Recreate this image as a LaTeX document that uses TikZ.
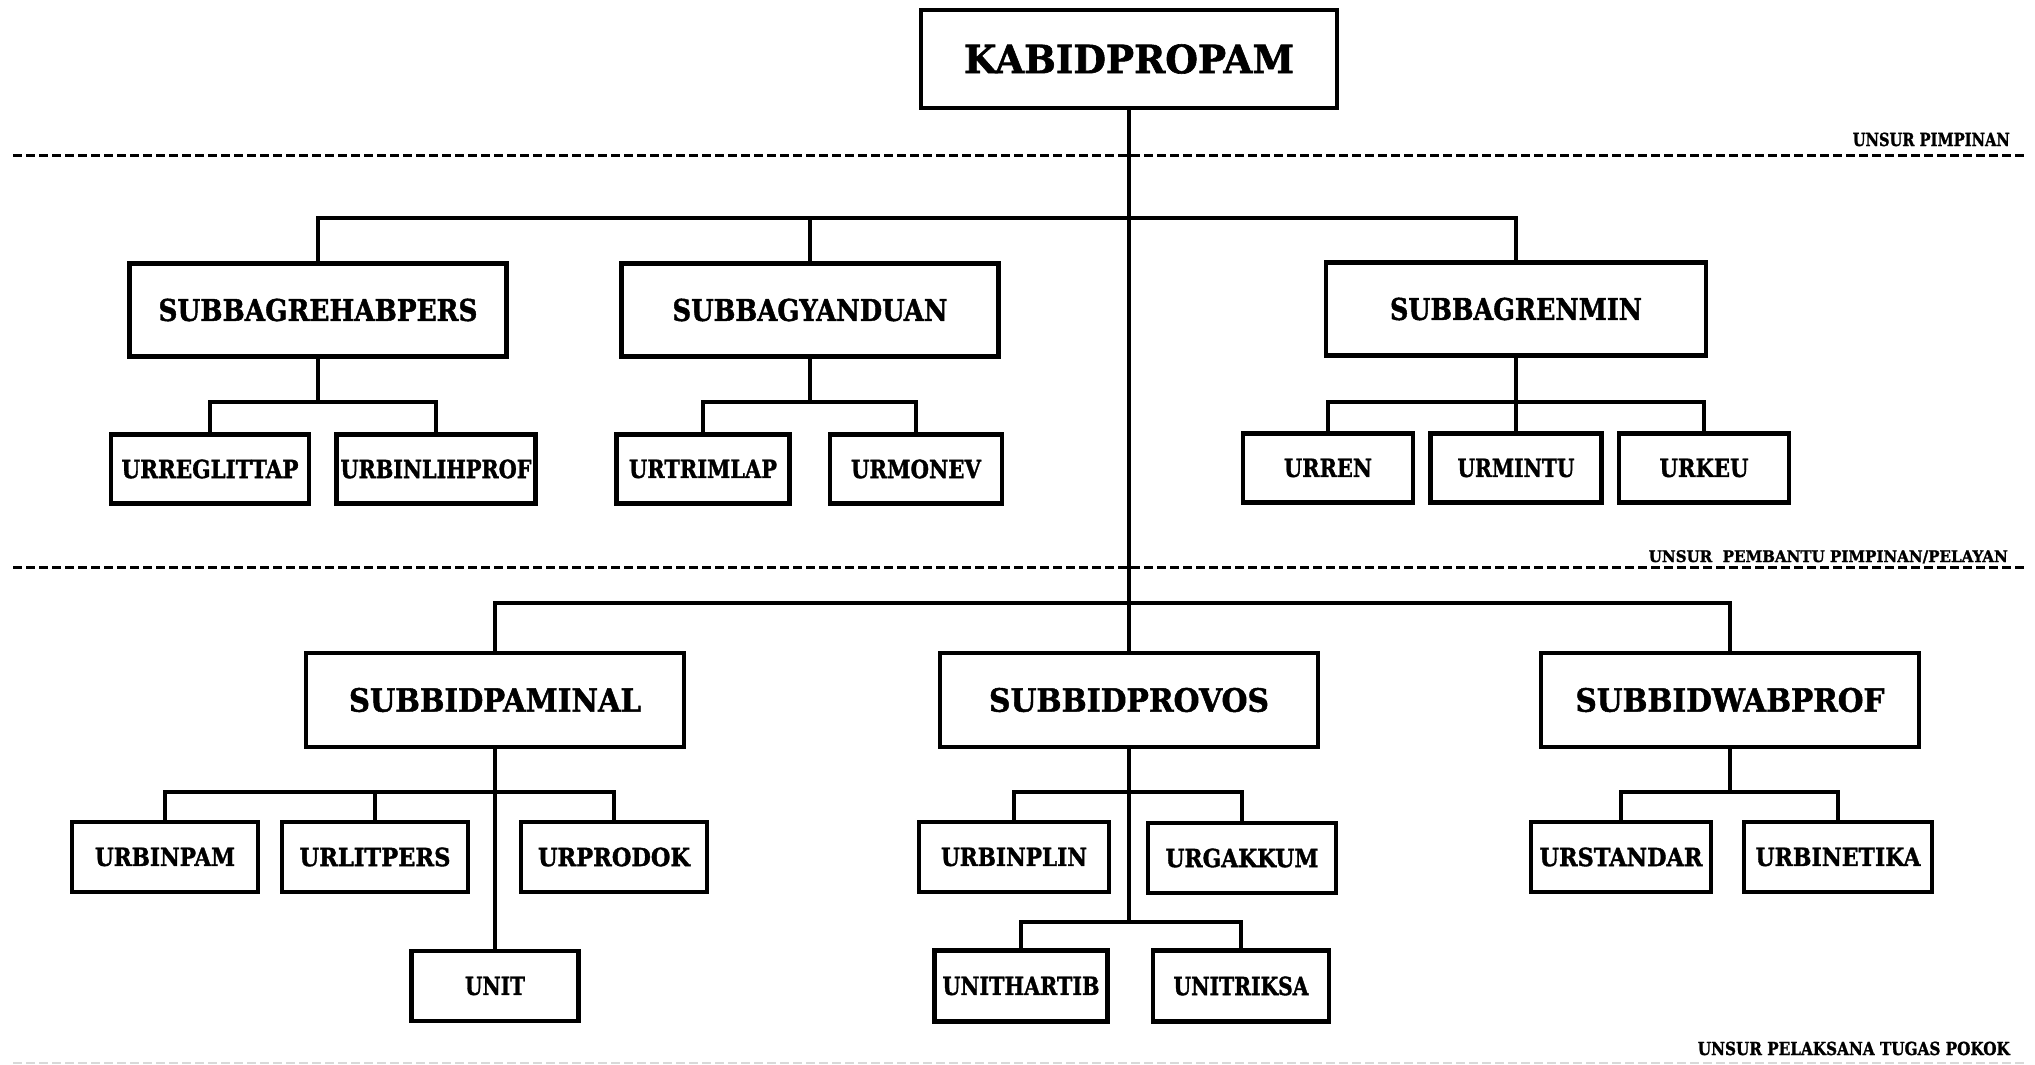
\documentclass[tikz,border=0pt]{standalone}
\usepackage{fontspec}
\setmainfont{DejaVu Serif}[BoldFeatures={FakeBold=1.5}]
\usepackage{graphicx}
\newcommand{\fitto}[3]{\resizebox{#1pt}{\height}{\fontsize{#2}{#2}\selectfont\bfseries #3}}
\tikzset{
  box/.style={draw, line width=4.5pt, inner sep=0pt},
  lone/.style={box, minimum width=377pt, minimum height=93pt},
  ltwo/.style={box, minimum width=378pt, minimum height=94pt},
  smallbox/.style={box, minimum height=69pt},
  conn/.style={line width=4.5pt},
  sepline/.style={line width=3pt, dash pattern=on 9pt off 4pt},
  lvl/.style={anchor=base east, inner sep=0pt},
}
\begin{document}
\begin{tikzpicture}[x=1pt,y=-1pt]
\path[use as bounding box] (0,0) rectangle (2035,1065);

% separators
\draw[sepline] (13,155) -- (2025,155);
\draw[sepline] (13,567) -- (2025,567);
\draw[sepline, black!15, line width=2pt] (13,1063) -- (2025,1063);

\node[lvl] (lab1) at (2010,146) {\fitto{157}{18}{UNSUR PIMPINAN}};
\node[lvl] (lab2) at (2008,562) {\fitto{359}{16}{UNSUR\ \ PEMBANTU PIMPINAN/PELAYAN}};
\node[lvl] (lab3) at (2010,1055) {\fitto{312}{18}{UNSUR PELAKSANA TUGAS POKOK}};

% head
\node[box, minimum width=416pt, minimum height=98pt] (kab) at (1129,59) {\fitto{330}{39}{KABIDPROPAM}};

% level 1
\node[lone] (reh) at (318,310) {\fitto{319}{30}{SUBBAGREHABPERS}};
\node[lone] (yan) at (810,310) {\fitto{275}{30}{SUBBAGYANDUAN}};
\node[lone, minimum width=380pt] (ren) at (1516,309) {\fitto{252}{30}{SUBBAGRENMIN}};

\node[smallbox, minimum width=198pt] (regl) at (210,469) {\fitto{177}{25}{URREGLITTAP}};
\node[smallbox, minimum width=199pt] (binl) at (436,469) {\fitto{191}{25}{URBINLIHPROF}};
\node[smallbox, minimum width=173pt] (trim) at (703,469) {\fitto{148}{25}{URTRIMLAP}};
\node[smallbox, minimum width=172pt] (mone) at (916,469) {\fitto{130}{25}{URMONEV}};
\node[smallbox, minimum width=170pt] (rren) at (1328,468) {\fitto{88}{25}{URREN}};
\node[smallbox, minimum width=171pt] (mint) at (1516,468) {\fitto{117}{25}{URMINTU}};
\node[smallbox, minimum width=170pt] (keu) at (1704,468) {\fitto{89}{25}{URKEU}};

% level 2
\node[ltwo] (pam) at (495,700) {\fitto{292}{32}{SUBBIDPAMINAL}};
\node[ltwo] (pro) at (1129,700) {\fitto{280}{32}{SUBBIDPROVOS}};
\node[ltwo] (wab) at (1730,700) {\fitto{309}{32}{SUBBIDWABPROF}};

\node[smallbox, minimum width=186pt, minimum height=70pt] (binp) at (165,857) {\fitto{140}{25}{URBINPAM}};
\node[smallbox, minimum width=186pt, minimum height=70pt] (litp) at (375,857) {\fitto{151}{25}{URLITPERS}};
\node[smallbox, minimum width=186pt, minimum height=70pt] (prod) at (614,857) {\fitto{152}{25}{URPRODOK}};
\node[smallbox, minimum width=167pt, minimum height=70pt] (unit) at (495,986) {\fitto{60}{25}{UNIT}};
\node[smallbox, minimum width=190pt, minimum height=70pt] (binpl) at (1014,857) {\fitto{146}{25}{URBINPLIN}};
\node[smallbox, minimum width=188pt, minimum height=70pt] (gakk) at (1242,858) {\fitto{153}{25}{URGAKKUM}};
\node[smallbox, minimum width=173pt, minimum height=71pt] (hart) at (1021,986) {\fitto{157}{25}{UNITHARTIB}};
\node[smallbox, minimum width=176pt, minimum height=71pt] (trik) at (1241,986) {\fitto{135}{25}{UNITRIKSA}};
\node[smallbox, minimum width=180pt, minimum height=70pt] (stan) at (1621,857) {\fitto{163}{25}{URSTANDAR}};
\node[smallbox, minimum width=188pt, minimum height=70pt] (beti) at (1838,857) {\fitto{165}{25}{URBINETIKA}};

% bar levels
\coordinate (ya) at (0,218);
\coordinate (yb) at (0,402);
\coordinate (yc) at (0,603);
\coordinate (yd) at (0,792);
\coordinate (ye) at (0,922);

% connectors
\draw[conn] (kab.south) -- (pro.north);
\draw[conn] (reh.north) -- (reh.north |- ya) -- (ren.north |- ya) -- (ren.north);
\draw[conn] (yan.north) -- (yan.north |- ya);

\draw[conn] (reh.south) -- (reh.south |- yb);
\draw[conn] (regl.north) -- (regl.north |- yb) -- (binl.north |- yb) -- (binl.north);
\draw[conn] (yan.south) -- (yan.south |- yb);
\draw[conn] (trim.north) -- (trim.north |- yb) -- (mone.north |- yb) -- (mone.north);
\draw[conn] (ren.south) -- (mint.north);
\draw[conn] (rren.north) -- (rren.north |- yb) -- (keu.north |- yb) -- (keu.north);

\draw[conn] (pam.north) -- (pam.north |- yc) -- (wab.north |- yc) -- (wab.north);

\draw[conn] (pam.south) -- (unit.north);
\draw[conn] (binp.north) -- (binp.north |- yd) -- (prod.north |- yd) -- (prod.north);
\draw[conn] (litp.north) -- (litp.north |- yd);

\draw[conn] (pro.south) -- (pro.south |- ye);
\draw[conn] (binpl.north) -- (binpl.north |- yd) -- (gakk.north |- yd) -- (gakk.north);
\draw[conn] (hart.north) -- (hart.north |- ye) -- (trik.north |- ye) -- (trik.north);

\draw[conn] (wab.south) -- (wab.south |- yd);
\draw[conn] (stan.north) -- (stan.north |- yd) -- (beti.north |- yd) -- (beti.north);
\end{tikzpicture}
\end{document}
